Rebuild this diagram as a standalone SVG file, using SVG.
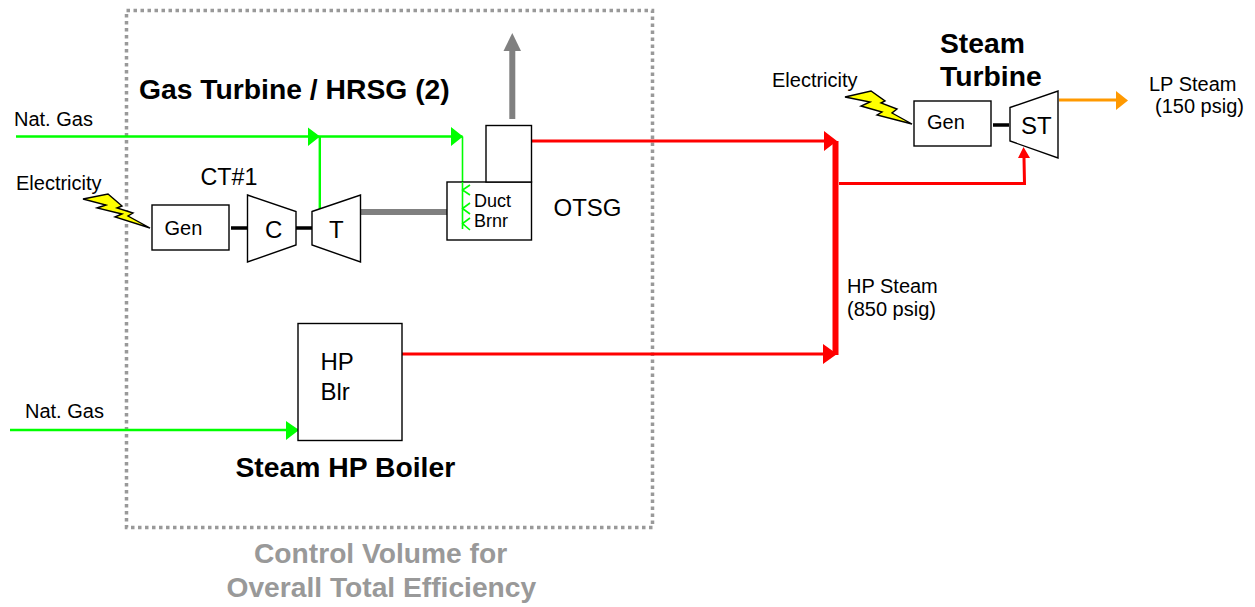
<svg xmlns="http://www.w3.org/2000/svg" width="1255" height="607" viewBox="0 0 1255 607">
<style>
text{font-family:"Liberation Sans",Arial,sans-serif;fill:#000}
.box{fill:#fff;stroke:#000;stroke-width:1.4}
.s18{font-size:18px}.s20{font-size:20px}.s23{font-size:23.300px}.s24{font-size:24px}
.b{font-weight:bold;font-size:28.300px}
.g{font-weight:bold;font-size:28.200px;fill:#999}
.bolt{fill:#ffff00;stroke:#000;stroke-width:1.4}
.gr{fill:none;stroke:#00ff00;stroke-width:2.400}
.re{fill:none;stroke:#ff0000;stroke-width:3}
.sh{stroke:#000;stroke-width:3.400}
</style>
<rect width="1255" height="607" fill="#fff"/>
<g id="control-volume"><rect x="126.500" y="10.500" width="526" height="517" fill="none" stroke="#999" stroke-width="3.500" stroke-dasharray="3.500 3.500"/></g>
<g id="connectors">
<path class="gr" d="M16 136.500H320M320 136.500H462.500M319.800 136.500V209"/>
<path fill="none" stroke="#00ff00" stroke-width="1.600" d="M462.500 136.500V182"/>
<path d="M308 127.500L320 136.500L308 146ZM451 127L463 136.500L451 146Z" fill="#00ff00"/>
<path class="gr" d="M10 430H299"/><path d="M286 421L299 430L286 440Z" fill="#00ff00"/>
<path stroke="#808080" stroke-width="6" d="M361 212H447M512.300 119V50" fill="none"/>
<path d="M503.500 51L512.300 33L521 51Z" fill="#808080"/>
<path class="re" d="M532 141H826M402 354H826M839 183.500H1024.500L1024 158"/>
<path fill="none" stroke="#ff0000" stroke-width="6" d="M835.500 141V355"/>
<path d="M824 131L837 141L824 151ZM823 344L837 354L823 364ZM1018 158L1023.500 147L1030 158Z" fill="#ff0000"/>
<path fill="none" stroke="#ff9900" stroke-width="3" d="M1059 100H1117"/><path d="M1116 91L1128 100.500L1116 110Z" fill="#ff9900"/>
<path class="sh" d="M231 228H247M296 228H312M993 125H1009"/>
</g>
<g id="gen1"><rect class="box" x="152" y="205" width="77" height="45"/><text class="s20" x="164.500" y="235">Gen</text></g>
<g id="compressor"><path class="box" d="M247.500 195L296 211.500V245L247.500 262Z"/><text class="s24" x="265" y="238">C</text></g>
<g id="turbine"><path class="box" d="M312 211.500L360.500 195V262L312 245Z"/><text class="s24" x="329" y="238">T</text></g>
<g id="duct"><rect class="box" x="447" y="182" width="84.500" height="58"/><path fill="none" stroke="#00ff00" stroke-width="1.600" d="M462.500 182V229M470 185L462.500 190L470 195M470 203L462.500 208.500L470 214M470 218L462.500 223.500L470 230"/><text class="s18" x="474" y="207">Duct</text><text class="s18" x="474" y="227">Brnr</text></g>
<g id="stack"><rect class="box" x="486" y="125.500" width="45.500" height="56.500"/></g>
<g id="hp-boiler"><rect class="box" x="298" y="323.500" width="104" height="117"/><text class="s24" x="320.500" y="370">HP</text><text class="s24" x="320.500" y="400">Blr</text></g>
<g id="gen2"><rect class="box" x="914" y="101" width="77" height="45"/><text class="s20" x="927" y="129">Gen</text></g>
<g id="steam-turbine"><path class="box" d="M1010 107.500L1058 91V158L1010 141Z"/><text class="s24" x="1021" y="134">ST</text></g>
<g id="bolts">
<path class="bolt" d="M83 199L108 194L122 206L117 208L133 213L128 216L150 228L115 217L122 214L97 208L106 205Z"/>
<path class="bolt" d="M845 97L871 91L885 101L881 103L897 109L892 113L912 124L877 115L882 112L861 106L870 102Z"/>
</g>
<g id="labels">
<text class="s20" x="14" y="126">Nat. Gas</text>
<text class="s20" x="25" y="418">Nat. Gas</text>
<text class="s20" x="16" y="190">Electricity</text>
<text class="s20" x="772" y="87">Electricity</text>
<text class="s23" x="200.500" y="185">CT#1</text>
<text class="s24" x="553.500" y="216">OTSG</text>
<text class="s20" x="847" y="293">HP Steam</text>
<text class="s20" x="847" y="316">(850 psig)</text>
<text class="s20" x="1149" y="91">LP Steam</text>
<text class="s20" x="1155" y="113">(150 psig)</text>
<text class="b" x="139" y="99">Gas Turbine / HRSG (2)</text>
<text class="b" x="235.500" y="477">Steam HP Boiler</text>
<text class="b" x="940" y="53">Steam</text>
<text class="b" x="940" y="86">Turbine</text>
<text class="g" x="254" y="563">Control Volume for</text>
<text class="g" x="226.500" y="597">Overall Total Efficiency</text>
</g>
</svg>
